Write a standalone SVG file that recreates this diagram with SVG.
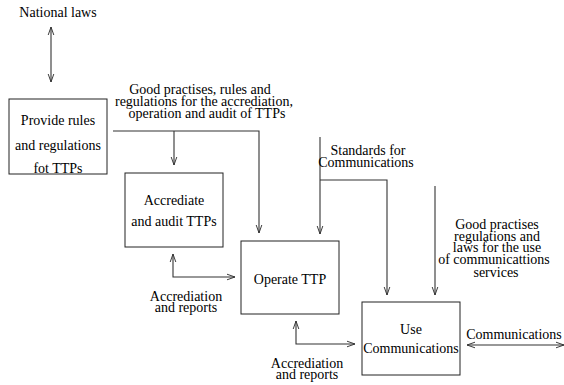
<svg xmlns="http://www.w3.org/2000/svg" width="564" height="385" viewBox="0 0 564 385">
<defs>
<marker id="ah" viewBox="0 0 10 10" refX="10" refY="5" markerWidth="8" markerHeight="8" orient="auto-start-reverse" markerUnits="userSpaceOnUse">
<path d="M0,1.5 L10,5 L0,8.5" fill="none" stroke="#333" stroke-width="1.2"/>
</marker>
</defs>
<rect width="564" height="385" fill="#fff"/>
<g id="connectors" fill="none" stroke="#333" stroke-width="1.1">
<line x1="51" y1="27" x2="51" y2="82" marker-start="url(#ah)" marker-end="url(#ah)"/>
<polyline points="113,131 259,131 259,233" marker-end="url(#ah)"/>
<line x1="174" y1="131" x2="174" y2="165" marker-end="url(#ah)"/>
<line x1="320" y1="137" x2="320" y2="234" marker-end="url(#ah)"/>
<polyline points="320,180 387,180 387,295" marker-end="url(#ah)"/>
<line x1="435" y1="186" x2="435" y2="295" marker-end="url(#ah)"/>
<polyline points="173,254 173,277 235,277" marker-start="url(#ah)" marker-end="url(#ah)"/>
<polyline points="296,321 296,344 355,344" marker-start="url(#ah)" marker-end="url(#ah)"/>
<line x1="467" y1="345" x2="564" y2="345" marker-start="url(#ah)" marker-end="url(#ah)"/>
</g>
<g id="labels" text-anchor="middle" font-family="Liberation Serif" font-size="14" fill="#000">
<text x="58" y="17">National laws</text>
<text x="200" y="94">Good practises, rules and</text>
<text x="204" y="106">regulations for the accrediation,</text>
<text x="207" y="118">operation and audit of TTPs</text>
<text x="368" y="155">Standards for</text>
<text x="366" y="167">Communications</text>
<text x="497" y="229">Good practises</text>
<text x="497" y="241">regulations and</text>
<text x="497" y="252">laws for the use</text>
<text x="494" y="264">of communicattions</text>
<text x="496" y="277">services</text>
<text x="186" y="301">Accrediation</text>
<text x="186" y="312">and reports</text>
<text x="307" y="368">Accrediation</text>
<text x="307" y="379">and reports</text>
<text x="514" y="339">Communications</text>
</g>
<g id="node-provide" text-anchor="middle" font-family="Liberation Serif" font-size="14">
<rect x="9" y="99" width="98" height="75" fill="#fff" stroke="#222"/>
<text x="58" y="125">Provide rules</text>
<text x="58" y="150">and regulations</text>
<text x="58" y="173">fot TTPs</text>
</g>
<g id="node-accrediate" text-anchor="middle" font-family="Liberation Serif" font-size="14">
<rect x="125" y="173" width="98" height="74" fill="#fff" stroke="#222"/>
<text x="174" y="205">Accrediate</text>
<text x="174" y="226">and audit TTPs</text>
</g>
<g id="node-operate" text-anchor="middle" font-family="Liberation Serif" font-size="14">
<rect x="241" y="241" width="98" height="73" fill="#fff" stroke="#222"/>
<text x="290" y="284">Operate TTP</text>
</g>
<g id="node-use" text-anchor="middle" font-family="Liberation Serif" font-size="14">
<rect x="362" y="302" width="98" height="73" fill="#fff" stroke="#222"/>
<text x="411" y="334">Use</text>
<text x="411" y="353">Communications</text>
</g>
</svg>
